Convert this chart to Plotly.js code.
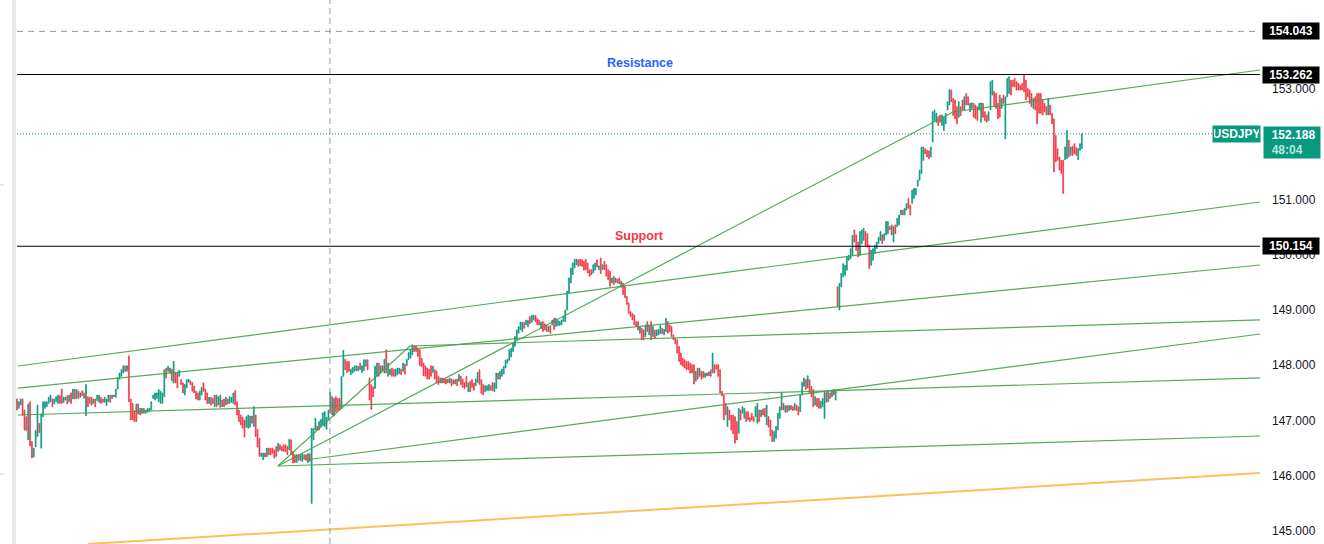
<!DOCTYPE html>
<html><head><meta charset="utf-8">
<script src="https://cdn.plot.ly/plotly-3.0.1.min.js"></script>
<style>html,body{margin:0;padding:0;background:#fff;}#chart{width:1324px;height:544px;}</style>
</head><body><div id="chart"></div>
<script>
// USDJPY candles (open / close, oldest first)
const openPrices = [
147.39,147.22,147.28,147.39,147.19,147.07,146.65,147.34,146.62,146.34,
146.52,146.71,146.95,146.50,147.07,147.22,147.25,147.31,147.34,147.39,
147.30,147.34,147.31,147.45,147.57,147.33,147.37,147.45,147.34,147.50,
147.39,147.56,147.40,147.53,147.42,147.54,147.50,147.09,147.43,147.42,
147.42,147.31,147.39,147.36,147.33,147.42,147.39,147.33,147.27,147.34,
147.46,147.40,147.46,147.42,147.57,147.75,147.80,147.86,147.99,147.89,
148.17,147.39,147.31,147.18,147.30,147.12,147.22,147.13,147.22,147.13,
147.15,147.16,147.19,147.40,147.37,147.40,147.34,147.31,147.31,147.43,
147.95,147.89,147.86,147.93,147.68,147.86,147.87,147.80,147.74,147.68,
147.46,147.59,147.69,147.72,147.69,147.62,147.53,147.50,147.37,147.46,
147.68,147.57,147.50,147.31,147.42,147.40,147.25,147.46,147.28,147.24,
147.37,147.39,147.28,147.39,147.31,147.33,147.31,147.54,147.34,147.19,
147.10,147.06,147.01,146.88,146.86,146.88,147.08,146.89,147.10,146.84,
146.68,146.35,146.29,146.41,146.35,
146.50,146.50,146.50,146.47,146.53,146.44,146.56,146.53,146.56,146.56,
146.53,146.47,146.65,146.44,146.38,146.24,146.38,146.28,146.26,146.38,
146.38,146.24,146.40,145.50,146.65,146.83,146.90,146.83,146.89,146.92,
146.89,146.84,147.02,147.14,147.43,147.08,147.43,147.40,147.40,147.22,
147.80,148.11,148.07,148.07,147.83,147.86,147.89,147.90,147.90,148.04,
147.87,147.90,147.98,148.10,147.77,147.65,147.61,147.58,147.80,148.04,
147.86,147.99,147.86,148.28,147.80,147.83,147.95,147.93,147.80,147.83,
147.85,147.93,147.89,148.02,147.99,148.10,148.13,148.19,148.35,148.35,
148.31,148.28,148.13,148.04,147.99,147.95,147.93,147.99,147.87,147.92,
147.89,147.80,147.77,147.68,147.76,147.75,147.75,147.68,147.75,147.74,
147.66,147.75,147.71,147.80,147.75,147.69,147.80,147.52,147.71,147.74,
147.68,147.63,147.69,147.92,147.74,147.65,147.52,147.54,147.54,147.63,
147.69,147.52,147.58,147.86,147.75,147.80,147.84,147.95,148.04,148.09,
148.15,148.25,148.34,148.46,148.58,
148.64,148.61,148.78,148.73,148.70,148.88,148.78,148.82,148.90,148.85,
148.82,148.67,148.79,148.75,148.73,148.61,148.72,148.73,148.85,148.70,
148.72,148.72,148.73,148.79,148.79,149.00,149.31,149.49,149.64,149.76,
149.82,149.91,149.92,149.91,149.88,149.92,149.85,149.73,149.73,149.67,
149.72,149.91,149.73,149.94,149.73,149.88,149.82,149.73,149.70,149.49,
149.61,149.50,149.56,149.58,149.41,149.49,149.43,149.25,149.13,148.97,
148.94,148.91,148.79,148.79,148.58,148.67,148.64,148.52,148.79,148.55,
148.79,148.52,148.64,148.53,148.55,148.57,148.67,148.55,148.61,148.79,
148.73,148.70,148.55,148.49,148.46,148.34,148.22,148.13,148.10,148.07,
148.07,
148.04,148.01,148.01,147.71,147.95,147.80,147.89,147.89,147.78,147.86,
147.81,147.92,147.86,148.01,148.01,148.01,147.92,147.53,147.46,147.31,
146.89,147.19,147.10,147.10,147.07,146.98,146.77,147.19,147.13,147.04,
147.16,147.16,147.05,147.13,147.07,147.07,146.95,147.19,147.07,147.21,
147.22,146.92,147.07,147.01,146.83,146.62,146.68,146.83,147.04,147.19,
147.31,147.15,147.27,147.18,147.27,147.25,147.19,147.28,147.25,147.16,
147.46,147.62,147.74,147.59,147.74,147.62,147.56,147.28,147.40,147.40,
147.22,147.25,147.04,147.51,147.34,147.50,147.43,147.56,147.37,
149.42,149.00,149.42,149.60,149.63,149.72,149.90,149.93,149.99,150.45,
150.36,150.23,149.99,150.20,150.26,150.42,150.38,150.17,149.81,149.90,
150.02,150.11,150.20,150.26,150.36,150.26,150.36,150.38,150.51,150.54,
150.23,150.54,150.51,150.54,150.72,150.81,150.72,150.81,151.02,150.90,
150.93,151.02,151.08,151.24,
151.35,151.47,151.71,151.92,151.89,151.88,151.77,152.04,152.43,152.40,
152.50,152.53,152.34,152.25,152.37,152.62,152.71,152.98,152.83,152.80,
152.68,152.49,152.68,152.80,152.62,152.92,152.86,152.59,152.65,152.74,
152.71,152.68,152.62,152.40,152.74,152.59,152.53,152.43,152.62,152.89,
152.95,152.92,152.74,152.89,152.65,152.89,152.10,152.86,152.92,153.16,
153.16,153.19,153.13,153.10,153.07,153.10,153.27,153.16,153.01,152.98,
152.92,152.65,152.86,152.92,152.92,152.92,152.80,152.74,152.68,152.53,
152.71,152.56,152.46,152.16,151.92,151.77,151.71,151.71,151.72,151.74,
152.07,151.80,151.96,152.01,151.94,151.72,151.89,151.92
];
const closePrices = [
147.19,147.34,147.39,147.09,146.83,146.82,147.30,146.54,146.32,146.50,
146.82,147.28,146.78,147.12,147.34,147.34,147.34,147.42,147.46,147.25,
147.39,147.43,147.46,147.31,147.31,147.42,147.42,147.30,147.46,147.31,
147.57,147.39,147.56,147.40,147.50,147.45,147.40,147.65,147.25,147.31,
147.28,147.39,147.25,147.46,147.46,147.31,147.33,147.42,147.39,147.46,
147.33,147.46,147.43,147.57,147.78,147.86,147.92,147.99,147.89,147.99,
147.34,147.01,147.01,146.98,146.98,147.30,147.10,147.22,147.13,147.19,
147.22,147.22,147.34,147.46,147.50,147.50,147.56,147.53,147.50,147.92,
147.77,147.98,147.95,147.72,148.07,147.68,147.59,147.91,147.65,147.50,
147.65,147.74,147.75,147.65,147.53,147.50,147.39,147.37,147.53,147.60,
147.53,147.37,147.31,147.42,147.28,147.31,147.46,147.25,147.43,147.46,
147.25,147.25,147.42,147.30,147.43,147.42,147.50,147.28,147.10,146.98,
146.92,146.86,146.70,147.07,147.10,147.08,146.95,147.25,146.71,146.52,
146.35,146.41,146.41,146.34,146.50,
146.38,146.38,146.41,146.32,146.35,146.59,146.47,146.45,146.44,146.44,
146.38,146.66,146.38,146.23,146.24,146.38,146.28,146.38,146.40,146.30,
146.28,146.40,146.26,146.86,146.86,147.04,146.82,146.98,147.02,147.14,
147.16,147.06,147.19,147.51,147.10,147.40,147.16,147.18,147.19,147.80,
148.27,147.92,147.87,147.89,147.93,147.96,147.99,147.99,147.98,147.92,
147.99,148.10,148.10,147.92,147.37,147.20,147.43,147.98,148.04,147.80,
147.99,147.90,148.11,147.86,148.04,147.93,147.80,147.80,147.93,147.95,
147.95,147.83,148.04,147.84,148.11,148.23,148.28,148.37,148.25,148.25,
148.16,147.99,147.98,147.81,147.80,147.75,147.75,147.80,147.98,147.75,
147.68,147.65,147.68,147.77,147.68,147.66,147.68,147.77,147.63,147.66,
147.74,147.63,147.83,147.65,147.60,147.58,147.61,147.68,147.52,147.60,
147.55,147.75,147.87,147.65,147.49,147.46,147.63,147.63,147.65,147.55,
147.54,147.68,147.86,147.75,147.89,147.93,147.98,148.09,148.11,148.28,
148.31,148.40,148.52,148.64,148.70,
148.78,148.78,148.67,148.82,148.81,148.75,148.90,148.91,148.79,148.73,
148.73,148.78,148.61,148.64,148.61,148.70,148.58,148.82,148.65,148.85,
148.81,148.79,148.82,148.88,149.00,149.34,149.58,149.76,149.85,149.92,
149.92,149.79,149.80,149.79,149.72,149.73,149.67,149.61,149.64,149.82,
149.85,149.78,149.80,149.66,149.82,149.73,149.61,149.55,149.43,149.58,
149.46,149.58,149.49,149.47,149.52,149.28,149.22,149.10,148.94,148.88,
148.82,148.73,148.70,148.64,148.70,148.46,148.46,148.73,148.61,148.73,
148.46,148.70,148.49,148.64,148.65,148.72,148.57,148.65,148.85,148.58,
148.61,148.52,148.46,148.39,148.22,148.07,148.01,147.98,147.95,147.92,
147.92,
147.86,147.86,147.66,147.89,147.75,147.95,147.75,147.78,147.86,147.81,
147.88,147.80,148.22,147.86,147.93,147.80,147.50,147.45,147.01,147.10,
147.25,147.01,146.83,146.76,146.59,146.65,147.22,147.01,147.25,147.22,
146.98,147.01,146.98,147.01,146.98,147.25,147.31,146.98,147.19,147.10,
147.07,147.28,146.88,146.72,146.62,146.80,146.89,147.13,147.25,147.50,
147.19,147.27,147.15,147.27,147.20,147.18,147.31,147.18,147.10,147.46,
147.69,147.77,147.56,147.81,147.50,147.43,147.25,147.43,147.25,147.22,
147.35,147.40,147.51,147.33,147.54,147.40,147.54,147.46,147.53,
149.06,149.48,149.66,149.84,149.81,149.96,149.99,150.11,150.35,150.23,
150.08,149.96,150.42,150.45,150.48,150.17,150.14,149.75,150.08,150.11,
150.17,150.23,150.32,150.42,150.20,150.38,150.60,150.60,150.45,150.36,
150.51,150.38,150.66,150.72,150.81,150.72,150.84,150.93,150.84,150.72,
151.17,151.20,151.20,151.35,
151.53,151.95,151.95,151.83,151.77,151.74,151.95,152.59,152.62,152.56,
152.34,152.40,152.53,152.50,152.56,152.77,152.99,152.77,152.52,152.46,
152.37,152.77,152.52,152.62,152.86,152.71,152.71,152.74,152.75,152.49,
152.46,152.43,152.74,152.75,152.49,152.43,152.40,152.59,153.13,153.16,
152.68,152.65,152.46,152.49,152.83,152.74,152.86,153.19,153.22,152.89,
153.04,153.04,152.98,152.98,152.98,152.98,152.95,152.80,152.86,152.74,
152.68,152.83,152.62,152.37,152.56,152.56,152.53,152.59,152.53,152.83,
152.53,152.37,151.50,151.68,151.71,151.53,151.47,151.11,151.95,152.25,
151.77,151.95,151.80,151.83,151.80,151.92,152.01,152.19
];

// Levels and labels
const symbolName = 'USDJPY';
const lastPrice = 152.188;
const countdown = '48:04';
const resistanceLevel = 153.262;
const supportLevel = 150.154;
const markLevel = 154.043;
const resistanceLabel = 'Resistance';
const supportLabel = 'Support';
const axisTicks = [145, 146, 147, 148, 149, 150, 151, 153];

// Drawn trend lines: [bar0, price0, bar1, price1]
const greenLines = [
  [0.5, 147.987, 666.5, 150.955],
  [0.5, 147.588, 666.5, 149.815],
  [0.5, 147.10, 666.5, 147.77],
  [139.9, 146.177, 666.5, 146.72],
  [154.4, 146.285, 666.5, 148.566],
  [139.9, 146.177, 210.7, 148.349],
  [210.7, 148.349, 666.5, 148.82],
  [139.9, 146.177, 501.9, 152.584],
  [501.9, 152.584, 666.5, 153.344]
];
const orangeLine = [38.1, 144.765, 666.5, 146.05];
const crosshairBar = 167.8;
const lineEndBar = 666.5;

const barIndex = openPrices.map((_, i) => i);
const highPrices = openPrices.map((o, i) => Math.max(o, closePrices[i]));
const lowPrices = openPrices.map((o, i) => Math.min(o, closePrices[i]));

const UP = '#089981', DOWN = '#F23645';
const FONT = 'Liberation Sans, Arial, sans-serif';

const traces = [{
  type: 'candlestick', x: barIndex, open: openPrices, high: highPrices, low: lowPrices, close: closePrices,
  increasing: {line: {color: UP, width: 0.7}, fillcolor: UP},
  decreasing: {line: {color: DOWN, width: 0.7}, fillcolor: DOWN},
  whiskerwidth: 0, hoverinfo: 'skip', showlegend: false
}];
greenLines.forEach(l => traces.push({
  type: 'scatter', mode: 'lines', x: [l[0], l[2]], y: [l[1], l[3]],
  line: {color: 'rgba(67,160,71,0.9)', width: 1.2}, hoverinfo: 'skip', showlegend: false
}));
traces.push({
  type: 'scatter', mode: 'lines', x: [orangeLine[0], orangeLine[2]], y: [orangeLine[1], orangeLine[3]],
  line: {color: 'rgba(255,183,77,0.9)', width: 2}, hoverinfo: 'skip', showlegend: false
});

const shapes = [
  {type:'line', xref:'x', yref:'y', x0:0, x1:lineEndBar, y0:markLevel, y1:markLevel, line:{color:'#9598a1', width:1, dash:'6px,5px'}},
  {type:'line', xref:'x', yref:'y', x0:0, x1:lineEndBar, y0:resistanceLevel, y1:resistanceLevel, line:{color:'#000', width:1}},
  {type:'line', xref:'x', yref:'y', x0:0, x1:lineEndBar, y0:supportLevel, y1:supportLevel, line:{color:'#000', width:1}},
  {type:'line', xref:'x', yref:'y', x0:0, x1:lineEndBar, y0:lastPrice, y1:lastPrice, line:{color:UP, width:1, dash:'1px,2px'}},
  {type:'line', xref:'x', yref:'paper', x0:crosshairBar, x1:crosshairBar, y0:0, y1:1, line:{color:'#9598a1', width:1, dash:'6px,4px'}},
  {type:'rect', xref:'paper', yref:'paper', x0:-4/1246, x1:0, y0:0, y1:1, fillcolor:'#e6e8ee', line:{width:0}, layer:'above'},
  {type:'line', xref:'paper', yref:'paper', x0:-16/1246, x1:-12/1246, y0:(544-474)/544, y1:(544-474)/544, line:{color:'#d1d4dc', width:1}},
  {type:'line', xref:'paper', yref:'paper', x0:-16/1246, x1:-12/1246, y0:(544-185)/544, y1:(544-185)/544, line:{color:'#d1d4dc', width:1}}
];

const boxFont = {family: FONT, size: 12, color: '#ffffff'};
const annotations = [
  {xref:'x', yref:'y', x:334, y:153.471, text:'<b>'+resistanceLabel+'</b>', showarrow:false, font:{family:FONT, size:12.5, color:'#2962FF'}},
  {xref:'x', yref:'y', x:334, y:150.34, text:'<b>'+supportLabel+'</b>', showarrow:false, font:{family:FONT, size:12.5, color:'#F23645'}},
  {xref:'paper', yref:'y', x:1, xanchor:'left', y:markLevel, yanchor:'middle', text:'<b>'+markLevel.toFixed(3)+'</b>', showarrow:false,
   bgcolor:'#000', width:54, height:14, borderpad:1, font:boxFont, align:'center'},
  {xref:'paper', yref:'y', x:1, xanchor:'left', y:resistanceLevel, yanchor:'middle', text:'<b>'+resistanceLevel.toFixed(3)+'</b>', showarrow:false,
   bgcolor:'#000', width:54, height:14, borderpad:1, font:boxFont, align:'center'},
  {xref:'paper', yref:'y', x:1, xanchor:'left', y:supportLevel, yanchor:'middle', text:'<b>'+supportLevel.toFixed(3)+'</b>', showarrow:false,
   bgcolor:'#000', width:54, height:14, borderpad:1, font:boxFont, align:'center'},
  {xref:'paper', yref:'y', x:1, xanchor:'right', xshift:-1, y:lastPrice, yanchor:'middle', text:'<b>'+symbolName+'</b>', showarrow:false,
   bgcolor:UP, width:45, height:14, borderpad:1, font:boxFont, align:'center'},
  {xref:'paper', yref:'y', x:1, xanchor:'left', xshift:1, y:lastPrice, yanchor:'top', yshift:8,
   text:'&nbsp;&nbsp;<b>'+lastPrice.toFixed(3)+'</b><br>&nbsp;&nbsp;<b><span style="color:#bfe6dd">'+countdown+'</span></b>', showarrow:false,
   bgcolor:UP, width:54, height:29, borderpad:1, font:boxFont, align:'left'}
];

const layout = {
  width: 1324, height: 544,
  margin: {l:16, r:62, t:0, b:0, pad:0},
  paper_bgcolor: '#ffffff', plot_bgcolor: '#ffffff',
  showlegend: false, hovermode: false,
  font: {family: FONT, size: 12, color: '#131722'},
  xaxis: {range:[-0.536, 667.6], visible:false, rangeslider:{visible:false}, fixedrange:true},
  yaxis: {range:[144.765, 154.611], side:'right', showgrid:false, zeroline:false, showline:false,
          tickmode:'array', tickvals:axisTicks, tickformat:'.3f', ticks:'', ticklabelstandoff:9,
          tickfont:{family:FONT, size:12, color:'#131722'}, fixedrange:true},
  shapes: shapes,
  annotations: annotations
};

Plotly.newPlot('chart', traces, layout, {displayModeBar:false, staticPlot:true});
</script>
</body></html>
